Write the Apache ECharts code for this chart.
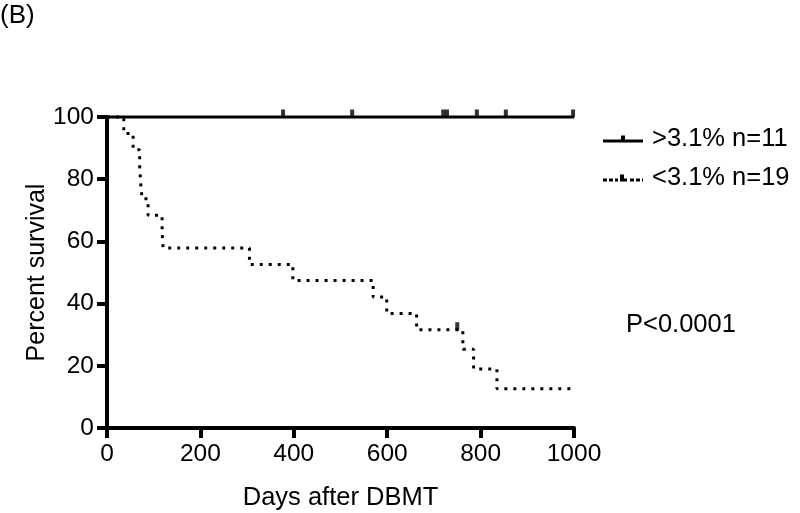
<!DOCTYPE html>
<html>
<head>
<meta charset="utf-8">
<script src="https://cdn.jsdelivr.net/npm/echarts@6/dist/echarts.min.js"></script>
<style>html,body{margin:0;padding:0;background:#fff}#c{width:800px;height:513px}</style>
</head>
<body>
<div id="c"></div>
<script>
// ---- data ----
var highLabel = '>3.1% n=11';
var lowLabel = '<3.1% n=19';
var highDays = [0, 1000];
var highSurv = [100, 100];
var highCensorDays = [377, 525, 720, 728, 792, 854, 998];
var highCensorSurv = [100, 100, 100, 100, 100, 100, 100];
var lowDays = [0, 36, 56, 70, 72, 75, 88, 118, 120, 305, 398, 570, 599, 663, 762, 785, 835, 1000];
var lowSurv = [100, 94.7, 89.5, 84.2, 78.9, 73.7, 68.4, 63.2, 57.9, 52.6, 47.4, 42.1, 36.8, 31.6, 25.3, 19.0, 12.6, 12.6];
var lowCensorDays = [750];
var lowCensorSurv = [31.6];
var xTicks = [0, 200, 400, 600, 800, 1000];
var yTicks = [0, 20, 40, 60, 80, 100];
var pText = 'P<0.0001';
var panelText = '(B)';

function zip(a, b) { return a.map(function (v, i) { return [v, b[i]]; }); }

var FONT = '"Liberation Sans", Arial, Helvetica, sans-serif';
var chart = echarts.init(document.getElementById('c'), null, { renderer: 'canvas' });
chart.setOption({
  animation: false,
  backgroundColor: '#fff',
  textStyle: { fontFamily: FONT, color: '#000' },
  title: [
    { text: panelText, left: 0, top: 3, padding: 0, textStyle: { fontFamily: FONT, fontSize: 26, fontWeight: 'normal', color: '#000' } },
    { text: pText, left: 626, top: 312, padding: 0, textStyle: { fontFamily: FONT, fontSize: 25.5, fontWeight: 'normal', color: '#000' } }
  ],
  legend: {
    orient: 'vertical', left: 603, top: 126, itemGap: 13, itemWidth: 40, itemHeight: 7,
    padding: 0, selectedMode: false,
    itemStyle: { borderWidth: 0 },
    textStyle: { fontFamily: FONT, fontSize: 25.5, color: '#000', padding: [0, 0, 0, 4] },
    data: [
      { name: highLabel, icon: 'path://M0,4H40V7H0Z M18,0H22V4H18Z' },
      { name: lowLabel, icon: 'path://M0,4H4V7H0Z M6,4H10V7H6Z M12,4H15V7H12Z M17,0H21V7H17Z M21,4H24V7H21Z M27,4H31V7H27Z M33,4H37V7H33Z M39,4H40V7H39Z' }
    ]
  },
  grid: { left: 107, right: 226, top: 117, bottom: 85, containLabel: false, outerBoundsMode: 'none' },
  xAxis: {
    type: 'value', min: 0, max: 1000, interval: 200,
    name: 'Days after DBMT', nameLocation: 'middle', nameGap: 57, nameMoveOverlap: false,
    nameTextStyle: { fontFamily: FONT, fontSize: 25.5, color: '#000' },
    axisLine: { show: true, onZero: false, lineStyle: { color: '#000', width: 4 } },
    axisTick: { show: true, length: 10, lineStyle: { color: '#000', width: 4 } },
    axisLabel: { margin: 14, fontFamily: FONT, fontSize: 24.5, color: '#000',
      formatter: function (v) { return String(v); } },
    splitLine: { show: false }
  },
  yAxis: {
    type: 'value', min: 0, max: 100, interval: 20,
    name: 'Percent survival', nameLocation: 'middle', nameGap: 57, nameMoveOverlap: false,
    nameTextStyle: { fontFamily: FONT, fontSize: 25, color: '#000' },
    axisLine: { show: true, onZero: false, lineStyle: { color: '#000', width: 4 } },
    axisTick: { show: true, length: 10, lineStyle: { color: '#000', width: 4 } },
    axisLabel: { margin: 13, fontFamily: FONT, fontSize: 24.5, color: '#000',
      formatter: function (v) { return String(v); } },
    splitLine: { show: false }
  },
  series: [
    {
      name: lowLabel, type: 'line', step: 'end', showSymbol: false, symbol: 'none', clip: false,
      color: '#000',
      lineStyle: { color: '#000', width: 3, type: [3, 6], cap: 'butt' },
      data: zip(lowDays, lowSurv), z: 2
    },
    {
      name: lowLabel, type: 'scatter', symbol: 'rect', symbolSize: [4, 8], symbolOffset: [0, -3.5], clip: false,
      itemStyle: { color: '#000' }, data: zip(lowCensorDays, lowCensorSurv), z: 3
    },
    {
      name: highLabel, type: 'line', step: 'end', showSymbol: false, symbol: 'none', clip: false,
      color: '#000',
      lineStyle: { color: '#000', width: 3 },
      data: zip(highDays, highSurv), z: 4
    },
    {
      name: highLabel, type: 'scatter', symbol: 'rect', symbolSize: [4, 8], symbolOffset: [0, -3.5], clip: false,
      itemStyle: { color: '#000' }, data: zip(highCensorDays, highCensorSurv), z: 5
    }
  ]
});
</script>
</body>
</html>
